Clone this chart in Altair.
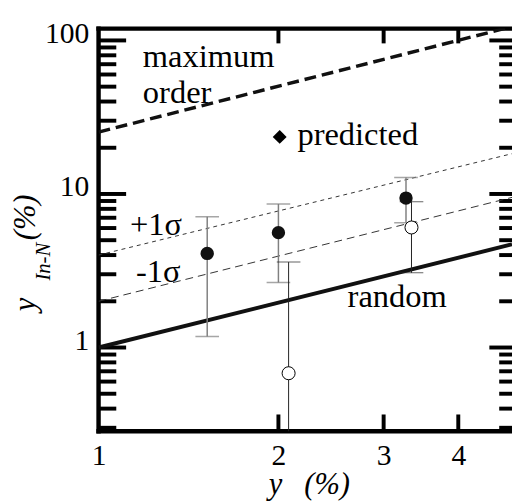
import altair as alt
import pandas as pd

# ---------------- data ----------------
# filled circles with error bars
x_filled = [1.52, 2.0, 3.27]
y_filled = [4.1, 5.6, 9.4]
lo_filled = [1.18, 2.65, 6.5]
hi_filled = [7.1, 8.6, 12.8]

# open circles with error bars
x_open = [2.08, 3.34]
y_open = [0.68, 6.05]
lo_open = [0.2, 3.07]
hi_open = [3.6, 8.9]

# reference lines (end points)
line_x = [1.0, 4.92]
max_order = [25.3, 123.0]
plus_sigma = [4.0, 18.3]
minus_sigma = [2.0, 9.5]
random_line = [1.0, 4.7]

# axes
x_label_values = [1, 2, 3, 4]
x_inner_ticks = [2, 3, 4]
y_label_values = [1, 10, 100]
y_minor_ticks = [0.3, 0.4, 0.5, 0.6, 0.7, 0.8, 0.9,
                 2, 3, 4, 5, 6, 7, 8, 9,
                 20, 30, 40, 50, 60, 70, 80, 90]
X_DOMAIN = [1, 4.92]
Y_DOMAIN = [0.285, 119.4]

# ---------------- chart ----------------
W, H = 420, 409
FONT = "Liberation Serif"

xs = alt.Scale(type="log", domain=X_DOMAIN, nice=False)
ys = alt.Scale(type="log", domain=Y_DOMAIN, nice=False)
xaxis = alt.Axis(values=x_label_values, format="d", title=None, domain=False,
                 ticks=False, tickSize=0, grid=False, labelFont=FONT, labelFontSize=30,
                 labelColor="black", labelBaseline="alphabetic", labelPadding=34,
                 labelFlush=False, labelOverlap=False)
yaxis = alt.Axis(values=y_label_values, format="d", title=None, domain=False,
                 ticks=False, tickSize=0, grid=False, labelFont=FONT, labelFontSize=30,
                 labelColor="black", labelBaseline="alphabetic", labelPadding=10,
                 labelOffset=2, labelFlush=False, labelOverlap=False)


def X(f):
    return alt.X(f, type="quantitative", scale=xs, axis=xaxis)


def Y(f):
    return alt.Y(f, type="quantitative", scale=ys, axis=yaxis)


one = pd.DataFrame({"a": [0]})
layers = []

# frame (left, top, bottom; the right edge lies outside the picture)
for enc in [
    dict(x=alt.value(0), y=alt.value(0), y2=alt.value(H)),
    dict(y=alt.value(0), x=alt.value(0), x2=alt.value(W)),
    dict(y=alt.value(H), x=alt.value(0), x2=alt.value(W)),
]:
    layers.append(alt.Chart(one).mark_rule(color="black", strokeWidth=4.5,
                                           strokeCap="square").encode(**enc))

# inward ticks
ymaj = pd.DataFrame({"v": y_label_values})
ymin = pd.DataFrame({"v": y_minor_ticks})
xin = pd.DataFrame({"v": x_inner_ticks})
tick = dict(color="black", strokeWidth=4)
layers += [
    alt.Chart(ymaj).mark_rule(**tick).encode(y=Y("v"), x=alt.value(0), x2=alt.value(28)),
    alt.Chart(ymin).mark_rule(**tick).encode(y=Y("v"), x=alt.value(0), x2=alt.value(18)),
    alt.Chart(ymaj).mark_rule(**tick).encode(y=Y("v"), x=alt.value(W), x2=alt.value(W - 23)),
    alt.Chart(ymin).mark_rule(**tick).encode(y=Y("v"), x=alt.value(W), x2=alt.value(W - 13)),
    alt.Chart(xin).mark_rule(**tick).encode(x=X("v"), y=alt.value(H), y2=alt.value(H - 17)),
    alt.Chart(xin).mark_rule(**tick).encode(x=X("v"), y=alt.value(0), y2=alt.value(15)),
]


# reference lines
def line(vals, **style):
    df = pd.DataFrame({"x": line_x, "y": vals})
    return alt.Chart(df).mark_line(clip=True, **style).encode(x=X("x"), y=Y("y"))


layers += [
    line(max_order, color="#111", strokeWidth=3.5, strokeDash=[12, 6]),
    line(plus_sigma, color="#333", strokeWidth=1, strokeDash=[4, 4]),
    line(minus_sigma, color="#333", strokeWidth=1, strokeDash=[8, 5]),
    line(random_line, color="#111", strokeWidth=4),
]

# error bars
filled = pd.DataFrame({"x": x_filled, "y": y_filled, "lo": lo_filled, "hi": hi_filled})
opened = pd.DataFrame({"x": x_open, "y": y_open, "lo": lo_open, "hi": hi_open})


def errbars(df, color, width):
    caps = pd.concat([df[["x"]].assign(c=df["lo"]), df[["x"]].assign(c=df["hi"])])
    return [
        alt.Chart(df).mark_rule(color=color, strokeWidth=width, clip=True).encode(
            x=X("x"), y=Y("lo"), y2="hi"),
        alt.Chart(caps).mark_tick(color=color, orient="horizontal", size=24,
                                  thickness=width, clip=True).encode(x=X("x"), y=Y("c")),
    ]


layers += errbars(filled, "#808080", 1.5)
layers += errbars(opened, "#222", 1)

# markers
layers += [
    alt.Chart(filled).mark_point(shape="circle", filled=True, color="#111", size=185,
                                 opacity=1).encode(x=X("x"), y=Y("y")),
    alt.Chart(opened).mark_point(shape="circle", filled=True, fill="white", stroke="black",
                                 strokeWidth=1, size=175, opacity=1).encode(x=X("x"), y=Y("y")),
]


# annotations
def txt(s, x, y, size=33, style="normal", angle=None):
    kw = dict(font=FONT, fontSize=size, fontStyle=style, align="left",
              baseline="alphabetic", color="black")
    if angle is not None:
        kw["angle"] = angle
    return alt.Chart(one).mark_text(**kw).encode(
        x=alt.value(x), y=alt.value(y), text=alt.value(s))


layers += [
    txt("maximum", 45, 39),
    txt("order", 45, 76),
    alt.Chart(one).mark_point(shape="diamond", filled=True, color="black", size=200,
                              opacity=1).encode(x=alt.value(184), y=alt.value(110)),
    txt("predicted", 202, 118),
    txt("+1σ", 32, 210),
    txt("-1σ", 38, 257),
    txt("random", 253, 283),
    # x axis title
    txt("y", 173, 473, size=31, style="italic"),
    txt("(%)", 209, 473, size=31, style="italic"),
    # y axis title (rotated)
    txt("y", -65, 287, size=31, style="italic", angle=270),
    txt("In-N", -49, 256, size=21, style="italic", angle=270),
    txt("(%)", -65, 215, size=31, style="italic", angle=270),
]

chart = alt.layer(*layers).properties(
    width=W, height=H,
    autosize=alt.AutoSizeParams(type="none"),
    padding={"left": 92, "top": 17, "right": 0, "bottom": 70},
).configure_view(stroke=None)

chart.save("out.html", embed_options={"renderer": "svg", "actions": False})
